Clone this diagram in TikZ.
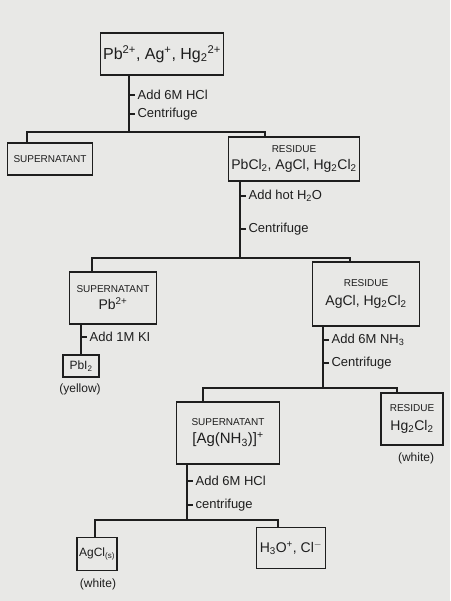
\documentclass[tikz,border=0pt]{standalone}
\usepackage{fontspec}
\setmainfont{Liberation Sans}
\usetikzlibrary{positioning, calc}
\definecolor{flPaper}{HTML}{E8E8E6}
\definecolor{flInk}{HTML}{1E1E1E}
\tikzset{
  flbox/.style={draw=flInk, line width=1.3pt, align=center, inner sep=3pt,
                text=flInk, font=\fontsize{14}{17}\selectfont},
  flline/.style={draw=flInk, line width=1.2pt},
  fltick/.style={anchor=west, inner sep=2pt, text=flInk,
                 font=\fontsize{13}{15}\selectfont},
  flnote/.style={inner sep=1pt, text=flInk, font=\fontsize{12}{14}\selectfont},
}
\newcommand{\flhead}[1]{{\fontsize{10}{12}\selectfont #1}}
\newcommand{\flsub}[1]{\textsubscript{#1}}
\newcommand{\flsup}[1]{\textsuperscript{#1}}
\begin{document}
\begin{tikzpicture}[x=1pt, y=-1pt]
\fill[flPaper] (0,0) rectangle (450,601);
\useasboundingbox (0,0) rectangle (450,601);

% boxes
\node[flbox, minimum width=116pt, minimum height=42pt, font=\fontsize{16}{18}\selectfont] (ions) at (162,54) {Pb\flsup{2+}, Ag\flsup{+}, Hg\flsub{2}\flsup{2+}};
\node[flbox, minimum width=85pt, minimum height=32pt] (supA) at (50,159) {\flhead{SUPERNATANT}};
\node[flbox, minimum width=124pt, minimum height=44pt] (resA) at (294,159) {\flhead{RESIDUE}\\ PbCl\flsub{2}, AgCl, Hg\flsub{2}Cl\flsub{2}};
\node[flbox, minimum width=87pt, minimum height=52pt] (supB) at (113,298) {\flhead{SUPERNATANT}\\ Pb\flsup{2+}};
\node[flbox, minimum width=107pt, minimum height=64pt] (resB) at (366,294) {\flhead{RESIDUE}\\[2pt] AgCl, Hg\flsub{2}Cl\flsub{2}};
\node[flbox, minimum width=36pt, minimum height=22pt, inner sep=2pt, font=\fontsize{12}{14}\selectfont] (pbi) at (81,366) {PbI\flsub{2}};
\node[flnote] (yellow) at (80,389) {(yellow)};
\node[flbox, minimum width=103pt, minimum height=62pt, font=\fontsize{15}{18}\selectfont] (supC) at (228,433) {\flhead{SUPERNATANT}\\ {[}Ag(NH\flsub{3}){]}\flsup{+}};
\node[flbox, minimum width=62pt, minimum height=52pt] (resC) at (412,419) {\flhead{RESIDUE}\\[2pt] Hg\flsub{2}Cl\flsub{2}};
\node[flnote] (whiteC) at (416,458) {(white)};
\node[flbox, minimum width=40pt, minimum height=33pt, inner sep=2pt, font=\fontsize{12}{14}\selectfont] (agcl) at (97,554) {AgCl\flsub{(s)}};
\node[flnote] (whiteD) at (98,584) {(white)};
\node[flbox, minimum width=57pt, minimum height=41pt] (hion) at (291,548) {H\flsub{3}O\flsup{+}, Cl\flsup{$-$}};

% split points and branch ends
\coordinate (splitA) at (129,132);
\coordinate (splitB) at (240,258);
\coordinate (splitC) at (323,388);
\coordinate (splitD) at (187,520);
\coordinate (endAl) at (27,132);
\coordinate (endAr) at (265,132);
\coordinate (endBl) at (92,258);
\coordinate (endBr) at (350,258);
\coordinate (endCl) at (203,388);
\coordinate (endCr) at (397,388);
\coordinate (endDl) at (95,520);
\coordinate (endDr) at (278,520);

% step 1
\draw[flline] (ions.south -| splitA) -- (splitA);
\draw[flline] (129,95) -- ++(6,0) node[fltick]{Add 6M HCl};
\draw[flline] (129,114) -- ++(6,0) node[fltick]{Centrifuge};
\draw[flline] (endAl |- supA.north) -- (endAl) -- (endAr) -- (endAr |- resA.north);

% step 2
\draw[flline] (resA.south -| splitB) -- (splitB);
\draw[flline] (240,196) -- ++(6,0) node[fltick]{Add hot H\flsub{2}O};
\draw[flline] (240,229) -- ++(6,0) node[fltick]{Centrifuge};
\draw[flline] (endBl |- supB.north) -- (endBl) -- (endBr) -- (endBr |- resB.north);

% step 3
\draw[flline] (supB.south -| pbi.north) -- (pbi.north);
\draw[flline] (81,337) -- ++(6,0) node[fltick]{Add 1M KI};

% step 4
\draw[flline] (resB.south -| splitC) -- (splitC);
\draw[flline] (323,340) -- ++(6,0) node[fltick]{Add 6M NH\flsub{3}};
\draw[flline] (323,363) -- ++(6,0) node[fltick]{Centrifuge};
\draw[flline] (endCl |- supC.north) -- (endCl) -- (endCr) -- (endCr |- resC.north);

% step 5
\draw[flline] (supC.south -| splitD) -- (splitD);
\draw[flline] (187,481) -- ++(6,0) node[fltick]{Add 6M HCl};
\draw[flline] (187,505) -- ++(6,0) node[fltick]{centrifuge};
\draw[flline] (endDl |- agcl.north) -- (endDl) -- (endDr) -- (endDr |- hion.north);
\end{tikzpicture}
\end{document}
